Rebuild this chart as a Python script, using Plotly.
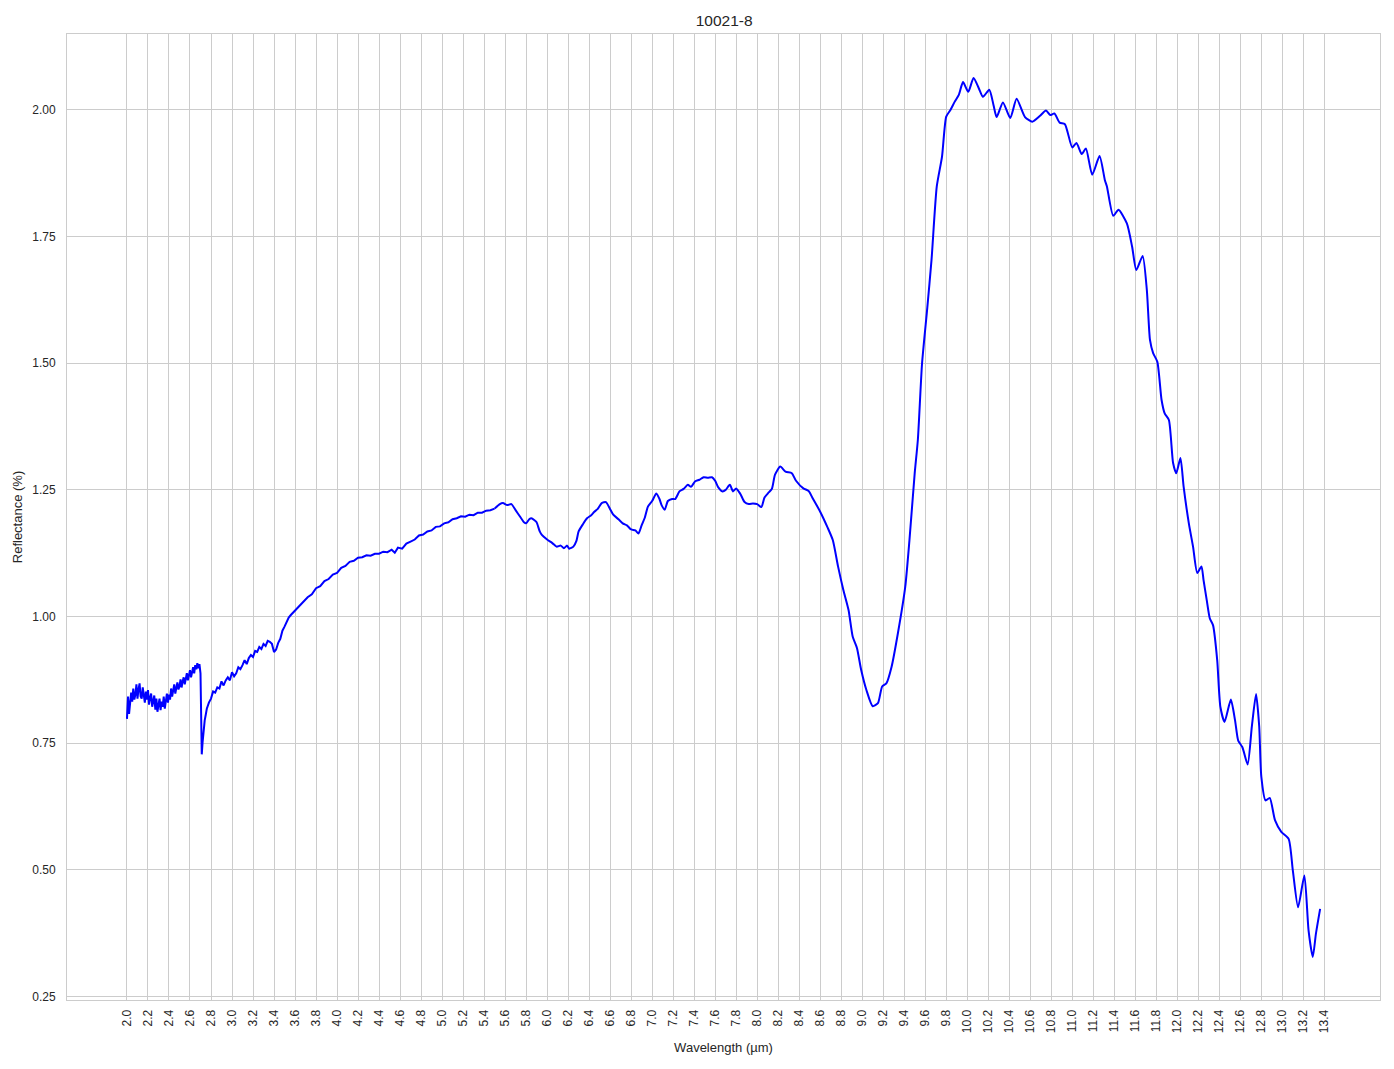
import plotly.graph_objects as go

title_text = "10021-8"
x_label = "Wavelength (µm)"
y_label = "Reflectance (%)"

# Noisy short-wavelength part of the spectrum (drawn with straight segments)
wavelength_noisy = [
    2.00, 2.01, 2.02, 2.03, 2.04, 2.05, 2.06, 2.07, 2.08, 2.09,
    2.10, 2.11, 2.12, 2.13, 2.14, 2.15, 2.16, 2.17, 2.18, 2.19,
    2.20, 2.21, 2.22, 2.23, 2.24, 2.25, 2.26, 2.27, 2.28, 2.29,
    2.30, 2.31, 2.32, 2.33, 2.34, 2.35, 2.36, 2.37, 2.38, 2.39,
    2.40, 2.41, 2.42, 2.43, 2.44, 2.45, 2.46, 2.47, 2.48, 2.49,
    2.50, 2.51, 2.52, 2.53, 2.54, 2.55, 2.56, 2.57, 2.58, 2.59,
    2.60, 2.61, 2.62, 2.63, 2.64, 2.65, 2.66, 2.67, 2.68, 2.69,
    2.70, 2.705, 2.712, 2.72, 2.73, 2.74, 2.75, 2.76, 2.78, 2.80,
    2.82, 2.84, 2.86, 2.88, 2.90, 2.92, 2.94, 2.96, 2.98, 3.00,
    3.02, 3.04, 3.06, 3.08, 3.10, 3.12, 3.14, 3.16, 3.18, 3.20,
    3.22, 3.24, 3.26, 3.28, 3.30, 3.32, 3.34, 3.36, 3.38, 3.40,
    3.42, 3.44, 3.46, 3.48, 3.50, 3.52, 3.54, 3.56, 3.60, 3.64,
    3.68, 3.72, 3.76, 3.80, 3.84, 3.88, 3.92, 3.96, 4.00, 4.04,
    4.08, 4.12, 4.16, 4.20, 4.24, 4.28, 4.32, 4.36, 4.40, 4.44,
    4.48, 4.52, 4.55, 4.58, 4.62, 4.66, 4.70, 4.74, 4.78, 4.82,
    4.86, 4.90, 4.94, 4.98, 5.02, 5.06, 5.10, 5.14, 5.18, 5.22,
    5.26, 5.30, 5.34, 5.38, 5.42, 5.46, 5.50,
]
reflectance_noisy = [
    0.798, 0.842, 0.808, 0.826, 0.850, 0.832, 0.858, 0.836, 0.846, 0.866,
    0.838, 0.856, 0.868, 0.842, 0.838, 0.860, 0.846, 0.830, 0.852, 0.836,
    0.855, 0.826, 0.840, 0.848, 0.822, 0.835, 0.844, 0.816, 0.838, 0.812,
    0.826, 0.838, 0.815, 0.832, 0.822, 0.842, 0.818, 0.836, 0.848, 0.830,
    0.846, 0.836, 0.858, 0.842, 0.852, 0.866, 0.848, 0.860, 0.870, 0.856,
    0.862, 0.876, 0.860, 0.872, 0.880, 0.866, 0.878, 0.888, 0.874, 0.884,
    0.894, 0.880, 0.890, 0.900, 0.888, 0.904, 0.896, 0.908, 0.898, 0.906,
    0.888, 0.800, 0.728, 0.752, 0.778, 0.795, 0.806, 0.818, 0.830, 0.838,
    0.852, 0.850, 0.860, 0.858, 0.872, 0.864, 0.874, 0.880, 0.874, 0.890,
    0.882, 0.888, 0.900, 0.896, 0.904, 0.914, 0.906, 0.918, 0.924, 0.920,
    0.932, 0.930, 0.940, 0.936, 0.946, 0.942, 0.952, 0.950, 0.946, 0.930,
    0.935, 0.948, 0.956, 0.972, 0.980, 0.990, 0.998, 1.003, 1.012, 1.020,
    1.030, 1.038, 1.044, 1.056, 1.060, 1.070, 1.074, 1.083, 1.086, 1.096,
    1.100, 1.108, 1.110, 1.116, 1.117, 1.121, 1.120, 1.124, 1.124, 1.128,
    1.127, 1.132, 1.126, 1.136, 1.134, 1.144, 1.148, 1.152, 1.160, 1.162,
    1.168, 1.170, 1.177, 1.178, 1.184, 1.186, 1.192, 1.194, 1.198, 1.197,
    1.201, 1.200, 1.205, 1.205, 1.209, 1.210, 1.213,
]

# Smoother long-wavelength part of the spectrum (drawn as a spline)
wavelength_smooth = [
    5.50, 5.55, 5.58, 5.62, 5.66, 5.70,
    5.74, 5.78, 5.80, 5.83, 5.85, 5.88, 5.90, 5.93, 5.95, 6.00,
    6.05, 6.09, 6.13, 6.16, 6.19, 6.21, 6.25, 6.28, 6.30, 6.34,
    6.38, 6.42, 6.45, 6.48, 6.52, 6.56, 6.60, 6.63, 6.68, 6.72,
    6.76, 6.80, 6.84, 6.87, 6.90, 6.93, 6.96, 7.00, 7.04, 7.07,
    7.09, 7.12, 7.15, 7.19, 7.22, 7.26, 7.30, 7.34, 7.37, 7.41,
    7.45, 7.49, 7.53, 7.57, 7.60, 7.63, 7.67, 7.70, 7.74, 7.77,
    7.80, 7.84, 7.88, 7.92, 7.96, 8.00, 8.04, 8.07, 8.11, 8.14,
    8.17, 8.22, 8.27, 8.33, 8.37, 8.44, 8.49, 8.53, 8.60, 8.67,
    8.72, 8.77, 8.82, 8.87, 8.91, 8.95, 8.99, 9.04, 9.10, 9.15,
    9.19, 9.23, 9.28, 9.34, 9.41, 9.45, 9.50, 9.53, 9.57, 9.62,
    9.66, 9.71, 9.76, 9.80, 9.84, 9.88, 9.92, 9.96, 10.01, 10.06,
    10.11, 10.15, 10.21, 10.25, 10.28, 10.34, 10.41, 10.47, 10.55, 10.62,
    10.69, 10.75, 10.79, 10.83, 10.88, 10.93, 11.00, 11.04, 11.09, 11.13,
    11.19, 11.26, 11.31, 11.33, 11.39, 11.44, 11.52, 11.57, 11.61, 11.67,
    11.71, 11.74, 11.77, 11.81, 11.85, 11.88, 11.92, 11.96, 11.99, 12.03,
    12.06, 12.11, 12.15, 12.19, 12.23, 12.25, 12.28, 12.31, 12.34, 12.38,
    12.41, 12.45, 12.51, 12.55, 12.58, 12.62, 12.67, 12.71, 12.75, 12.78,
    12.80, 12.84, 12.88, 12.93, 12.99, 13.06, 13.10, 13.15, 13.21, 13.25,
    13.29, 13.32, 13.36,
]
reflectance_smooth = [
    1.213, 1.222, 1.224, 1.220, 1.222, 1.210,
    1.198, 1.186, 1.184, 1.192, 1.194, 1.190, 1.186, 1.168, 1.161, 1.152,
    1.145, 1.138, 1.140, 1.135, 1.140, 1.134, 1.138, 1.150, 1.168, 1.182,
    1.194, 1.200, 1.207, 1.212, 1.224, 1.226, 1.212, 1.201, 1.192, 1.184,
    1.180, 1.172, 1.170, 1.164, 1.180, 1.195, 1.217, 1.228, 1.243, 1.232,
    1.220, 1.211, 1.228, 1.232, 1.232, 1.247, 1.252, 1.260, 1.256, 1.267,
    1.270, 1.275, 1.274, 1.275, 1.268, 1.255, 1.247, 1.250, 1.260, 1.247,
    1.253, 1.242, 1.226, 1.222, 1.223, 1.222, 1.216, 1.235, 1.245, 1.252,
    1.280, 1.296, 1.286, 1.283, 1.268, 1.253, 1.248, 1.233, 1.207, 1.176,
    1.151, 1.099, 1.053, 1.013, 0.960, 0.938, 0.895, 0.855, 0.823, 0.829,
    0.862, 0.868, 0.901, 0.967, 1.059, 1.151, 1.283, 1.349, 1.500, 1.610,
    1.704, 1.849, 1.908, 1.987, 2.000, 2.016, 2.030, 2.055, 2.036, 2.063,
    2.043, 2.026, 2.040, 2.010, 1.986, 2.015, 1.984, 2.022, 1.986, 1.977,
    1.988, 1.999, 1.990, 1.993, 1.975, 1.972, 1.926, 1.935, 1.913, 1.924,
    1.872, 1.909, 1.862, 1.849, 1.791, 1.803, 1.776, 1.730, 1.684, 1.712,
    1.645, 1.546, 1.520, 1.503, 1.428, 1.401, 1.388, 1.303, 1.283, 1.313,
    1.257, 1.184, 1.138, 1.086, 1.099, 1.072, 1.033, 0.996, 0.983, 0.914,
    0.822, 0.792, 0.836, 0.795, 0.755, 0.742, 0.708, 0.783, 0.847, 0.783,
    0.684, 0.637, 0.642, 0.598, 0.575, 0.561, 0.499, 0.426, 0.489, 0.380,
    0.328, 0.374, 0.423,
]

x_tick_values = [round(2.0 + 0.2 * i, 1) for i in range(58)]
x_tick_labels = [f"{v:.1f}" for v in x_tick_values]
y_tick_values = [0.25, 0.50, 0.75, 1.00, 1.25, 1.50, 1.75, 2.00]
y_tick_labels = [f"{v:.2f}" for v in y_tick_values]

FONT = "Liberation Sans, Arial, sans-serif"
TXT = "#262626"
GRID = "#cccccc"
LINE = "#0000ff"

fig = go.Figure()
fig.add_trace(go.Scatter(
    x=wavelength_noisy, y=reflectance_noisy, mode="lines",
    line=dict(color=LINE, width=2, shape="linear"), showlegend=False,
))
fig.add_trace(go.Scatter(
    x=wavelength_smooth, y=reflectance_smooth, mode="lines",
    line=dict(color=LINE, width=2, shape="spline", smoothing=0.6), showlegend=False,
))

fig.update_layout(
    width=1394, height=1069,
    margin=dict(l=67, r=14, t=34, b=69, autoexpand=False),
    paper_bgcolor="white", plot_bgcolor="white",
    font=dict(family=FONT, color=TXT, size=12),
    title=dict(text=title_text, x=0.5195, xanchor="center", y=0.981, yanchor="middle",
               font=dict(family=FONT, size=15.5, color=TXT)),
    xaxis=dict(
        range=[1.429, 13.93], tickmode="array", tickvals=x_tick_values, ticktext=x_tick_labels,
        tickangle=-90, showgrid=True, gridcolor=GRID, gridwidth=1, automargin=False,
        showline=True, linecolor=GRID, linewidth=1, mirror=True, zeroline=False,
        ticks="", ticklen=0, ticklabelstandoff=4,
        tickfont=dict(size=12, family=FONT, color=TXT),
        title=dict(text=x_label, font=dict(size=13, family=FONT, color=TXT), standoff=10),
    ),
    yaxis=dict(
        range=[0.243, 2.15], tickmode="array", tickvals=y_tick_values, ticktext=y_tick_labels,
        showgrid=True, gridcolor=GRID, gridwidth=1, automargin=False,
        showline=True, linecolor=GRID, linewidth=1, mirror=True, zeroline=False,
        ticks="", ticklen=0, ticklabelstandoff=8,
        tickfont=dict(size=12, family=FONT, color=TXT),
        title=dict(text=y_label, font=dict(size=13, family=FONT, color=TXT), standoff=6),
    ),
)

fig.write_html("out.html", config={"displayModeBar": False},
               post_script="document.body.style.margin='0px';")
